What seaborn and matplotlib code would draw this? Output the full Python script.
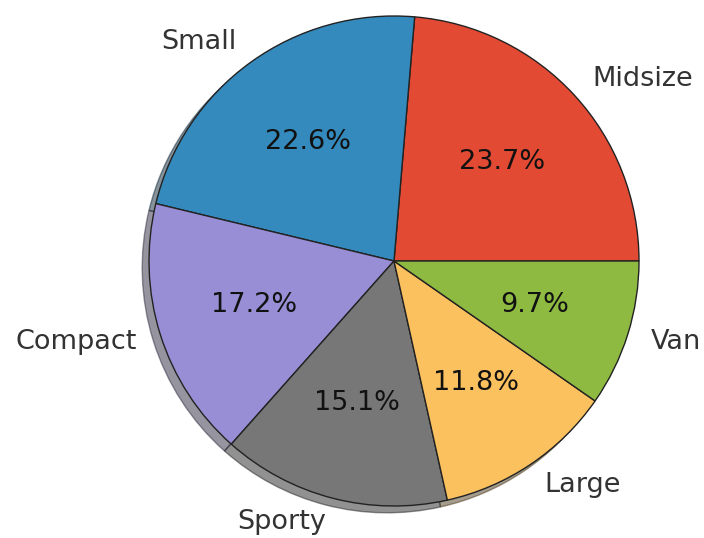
import matplotlib
matplotlib.use("Agg")
import matplotlib.pyplot as plt
import seaborn as sns

# Car types (Cars93 counts)
car_types = ["Midsize", "Small", "Compact", "Sporty", "Large", "Van"]
counts = [22, 21, 16, 14, 11, 9]
slice_colors = ["#E24A33", "#348ABD", "#988ED5", "#777777", "#FBC15E", "#8EBA42"]

sns.set_style("white")
plt.rcParams["font.family"] = ["DejaVu Sans"]

fig = plt.figure(figsize=(7.04, 5.38), dpi=100)
W, H = 704, 538
cx, cy, r = 394, 538 - 261, 245
half = r * 1.25
ax = fig.add_axes([(cx - half) / W, (cy - half) / H, 2 * half / W, 2 * half / H])

wedges, texts, autotexts = ax.pie(
    counts,
    labels=car_types,
    colors=slice_colors,
    autopct="%1.1f%%",
    shadow=True,
    startangle=0,
    wedgeprops=dict(edgecolor="#222222", linewidth=1.0),
    textprops=dict(fontsize=19.5),
)
for t in texts:
    t.set_color("#333333")
for t in autotexts:
    t.set_color("#111111")

ax.set_xlim(-1.25, 1.25)
ax.set_ylim(-1.25, 1.25)
ax.set_aspect("equal")
ax.axis("off")

fig.savefig("out.png", dpi=100)
